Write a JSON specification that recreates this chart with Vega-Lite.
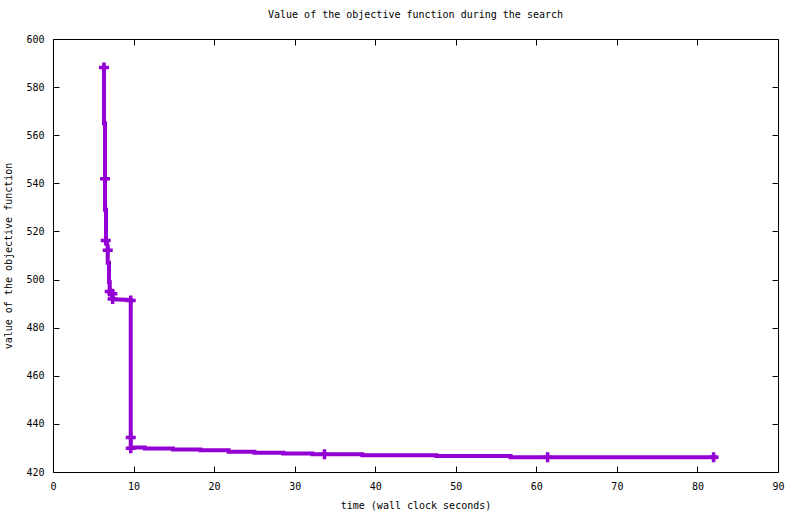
{
  "$schema": "https://vega.github.io/schema/vega-lite/v6.json",
  "width": 725,
  "height": 433,
  "autosize": "none",
  "padding": {"left": 53, "top": 39, "right": 22, "bottom": 42},
  "background": "white",
  "config": {
    "view": {"stroke": "black", "strokeWidth": 1},
    "font": "DejaVu Sans Mono",
    "axis": {
      "grid": false,
      "domain": false,
      "tickColor": "black",
      "tickSize": -6,
      "labelFlush": false,
      "labelFont": "DejaVu Sans Mono",
      "labelFontSize": 10,
      "labelColor": "black",
      "titleFont": "DejaVu Sans Mono",
      "titleFontSize": 10,
      "titleFontWeight": "normal",
      "titleColor": "black"
    }
  },
  "title": {
    "text": "Value of the objective function during the search",
    "font": "DejaVu Sans Mono",
    "fontSize": 10,
    "fontWeight": "normal",
    "color": "black",
    "offset": 14
  },
  "datasets": {
    "trace": [
      {"t": 6.33, "v": 588.2}, {"t": 6.33, "v": 565.0}, {"t": 6.46, "v": 565.0},
      {"t": 6.46, "v": 529.0}, {"t": 6.58, "v": 529.0}, {"t": 6.58, "v": 516.2},
      {"t": 6.79, "v": 514.0}, {"t": 6.79, "v": 507.0}, {"t": 6.95, "v": 507.0},
      {"t": 6.95, "v": 499.0}, {"t": 7.04, "v": 499.0}, {"t": 7.04, "v": 495.0},
      {"t": 7.37, "v": 494.0}, {"t": 7.45, "v": 491.8}, {"t": 9.65, "v": 491.5},
      {"t": 9.65, "v": 430.2}, {"t": 11.4, "v": 430.2}, {"t": 11.4, "v": 429.8},
      {"t": 14.9, "v": 429.8}, {"t": 14.9, "v": 429.4}, {"t": 18.3, "v": 429.4},
      {"t": 18.3, "v": 429.0}, {"t": 21.8, "v": 429.0}, {"t": 21.8, "v": 428.4},
      {"t": 25.0, "v": 428.4}, {"t": 25.0, "v": 428.0}, {"t": 28.6, "v": 428.0},
      {"t": 28.6, "v": 427.7}, {"t": 32.2, "v": 427.7}, {"t": 32.2, "v": 427.4},
      {"t": 38.4, "v": 427.4}, {"t": 38.4, "v": 427.0}, {"t": 47.6, "v": 427.0},
      {"t": 47.6, "v": 426.6}, {"t": 56.8, "v": 426.6}, {"t": 56.8, "v": 426.1},
      {"t": 82.2, "v": 426.1}
    ],
    "found": [
      {"t": 6.33, "v": 588.2}, {"t": 6.46, "v": 541.9}, {"t": 6.54, "v": 516.2},
      {"t": 6.79, "v": 512.2}, {"t": 7.04, "v": 495.0}, {"t": 7.37, "v": 494.1},
      {"t": 7.4, "v": 491.9}, {"t": 9.65, "v": 491.3}, {"t": 9.65, "v": 434.3},
      {"t": 9.65, "v": 429.9}, {"t": 33.7, "v": 427.4}, {"t": 61.4, "v": 426.1},
      {"t": 82.0, "v": 426.1}
    ]
  },
  "layer": [
    {
      "data": {"name": "trace"},
      "mark": {"type": "line", "color": "#9400D3", "strokeWidth": 4, "strokeCap": "square"},
      "encoding": {
        "x": {
          "field": "t", "type": "quantitative",
          "scale": {"domain": [0, 90], "nice": false},
          "axis": {"orient": "bottom", "values": [0, 10, 20, 30, 40, 50, 60, 70, 80, 90], "labelPadding": 15, "title": "time (wall clock seconds)", "titlePadding": 9}
        },
        "y": {
          "field": "v", "type": "quantitative",
          "scale": {"domain": [420, 600], "nice": false, "zero": false},
          "axis": {"orient": "left", "values": [420, 440, 460, 480, 500, 520, 540, 560, 580, 600], "labelPadding": 15, "title": "value of the objective function", "titlePadding": 12}
        },
        "order": {"value": 0}
      }
    },
    {
      "data": {"name": "found"},
      "mark": {"type": "point", "shape": "M-1,0H1M0,-1V1", "filled": false, "color": "#9400D3", "strokeWidth": 3.5, "size": 100, "opacity": 1},
      "encoding": {
        "x": {
          "field": "t", "type": "quantitative",
          "axis": {"orient": "top", "values": [0, 10, 20, 30, 40, 50, 60, 70, 80, 90], "labels": false, "title": null}
        },
        "y": {
          "field": "v", "type": "quantitative",
          "axis": {"orient": "right", "values": [420, 440, 460, 480, 500, 520, 540, 560, 580, 600], "labels": false, "title": null}
        }
      }
    }
  ],
  "resolve": {"axis": {"x": "independent", "y": "independent"}}
}
